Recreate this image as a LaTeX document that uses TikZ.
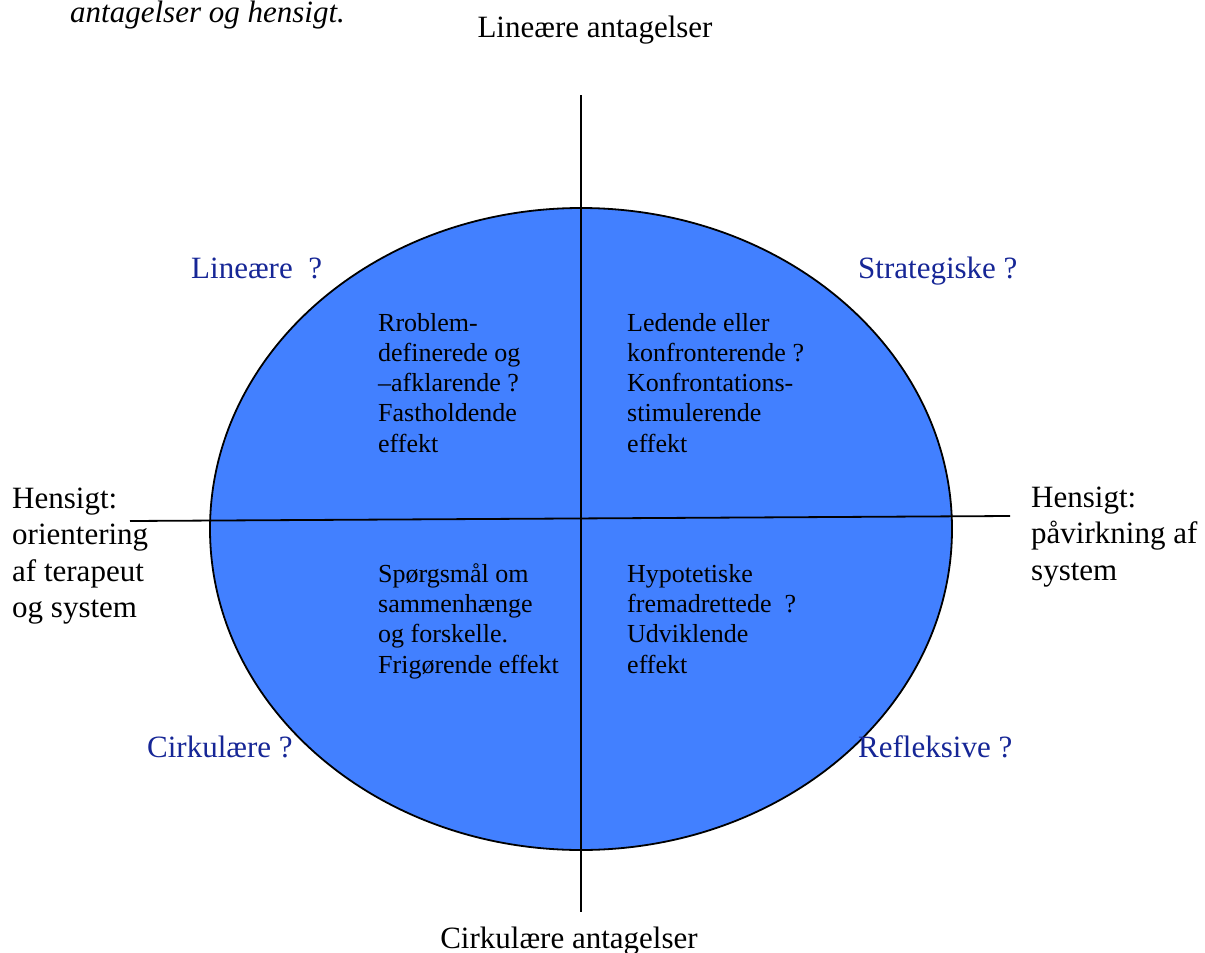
\documentclass[tikz,border=0pt]{standalone}
\usepackage{fontspec}
\setmainfont{Liberation Serif}
\definecolor{ellfill}{RGB}{66,128,255}
\definecolor{labblue}{RGB}{22,38,150}
\begin{document}
\begin{tikzpicture}[x=1pt,y=-1pt,
  big/.style={inner sep=0pt,anchor=base west,align=left,font=\fontsize{31}{36.5}\selectfont},
  quad/.style={inner sep=0pt,anchor=base west,align=left,font=\fontsize{26}{30.2}\selectfont},
  qlabel/.style={inner sep=0pt,anchor=base west,text=labblue,font=\fontsize{31}{36.5}\selectfont},
  axis/.style={draw=black,line width=1.8pt}]
\useasboundingbox (0,0) rectangle (1205,953);
% ellipse
\filldraw[fill=ellfill,draw=black,line width=1.8pt] (581,529) ellipse [x radius=371, y radius=321];
% axes
\coordinate (vtop) at (581,95);
\coordinate (vbot) at (581,912);
\coordinate (hleft) at (130,521);
\coordinate (hright) at (1010,516);
\draw[axis] (vtop) -- (vbot);
\draw[axis] (hleft) -- (hright);
% top caption
\node[big,font=\fontsize{31}{36.5}\selectfont\itshape] (cap) at (70,22) {antagelser og hensigt.};
\node[big,anchor=base] (lin) at (595,37) {Lineære antagelser};
\node[big,anchor=base] (cirk) at (569,948) {Cirkulære antagelser};
% side texts (anchor = baseline of last line)
\node[big] (left) at (12,617.5) {Hensigt:\\orientering\\af terapeut\\og system};
\node[big] (right) at (1031,580) {Hensigt:\\påvirkning af\\system};
% quadrant labels
\node[qlabel] (ql1) at (191,278) {Lineære\ \ ?};
\node[qlabel] (ql2) at (858,278) {Strategiske ?};
\node[qlabel] (ql3) at (147,757) {Cirkulære ?};
\node[qlabel] (ql4) at (858,757) {Refleksive ?};
% quadrant texts (anchor = baseline of last line)
\node[quad] (q1) at (378,452) {Rroblem-\\definerede og\\–afklarende ?\\Fastholdende\\effekt};
\node[quad] (q2) at (627,452) {Ledende eller\\konfronterende ?\\Konfrontations-\\stimulerende\\effekt};
\node[quad] (q3) at (378,673) {Spørgsmål om\\sammenhænge\\og forskelle.\\Frigørende effekt};
\node[quad] (q4) at (627,673) {Hypotetiske\\fremadrettede\ \ ?\\Udviklende\\effekt};
\end{tikzpicture}
\end{document}
